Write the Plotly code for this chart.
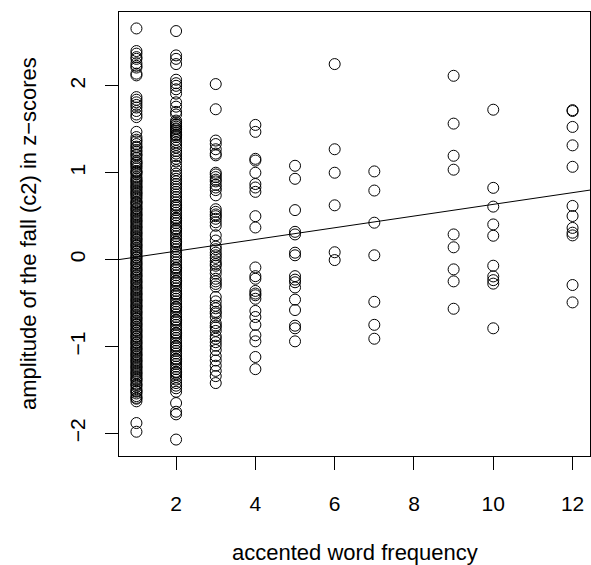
import plotly.graph_objects as go

# accented word frequency (x) -> amplitude of the fall in z-scores (y)
freq1 = [2.66, 2.40, 2.37, 2.33, 2.31, 2.26, 2.23, 2.21, 2.14, 2.12,
         1.87, 1.84, 1.81, 1.78, 1.75, 1.71, 1.67, 1.64, 1.47,
         1.41, 1.38, 1.36, 1.33, 1.30, 1.29, 1.26, 1.24, 1.21, 1.20, 1.17, 1.14, 1.12, 1.09,
         1.07, 1.05, 1.02, 1.00, 0.98, 0.95, 0.93, 0.91, 0.88, 0.86, 0.84, 0.81, 0.79, 0.77,
         0.74, 0.72, 0.70, 0.67, 0.65, 0.63, 0.61, 0.58, 0.56, 0.54, 0.51, 0.49, 0.47, 0.44,
         0.42, 0.40, 0.37, 0.35, 0.33, 0.30, 0.28, 0.26, 0.23, 0.21, 0.19, 0.16, 0.14, 0.12,
         0.09, 0.07, 0.05, 0.02, 0.00, -0.02, -0.05, -0.07, -0.09, -0.12, -0.14, -0.16, -0.19,
         -0.21, -0.23, -0.26, -0.28, -0.30, -0.33, -0.35, -0.37, -0.40, -0.42, -0.44, -0.47,
         -0.49, -0.51, -0.54, -0.56, -0.58, -0.61, -0.63, -0.65, -0.68, -0.70, -0.72, -0.75,
         -0.77, -0.79, -0.82, -0.84, -0.86, -0.89, -0.91, -0.93, -0.96, -0.98, -1.00, -1.03,
         -1.05, -1.07, -1.10, -1.12, -1.14, -1.17, -1.19, -1.21, -1.24, -1.26, -1.28, -1.31,
         -1.33, -1.35, -1.38, -1.40, -1.43, -1.46, -1.49, -1.51, -1.54, -1.57, -1.60, -1.63,
         -1.88, -1.98,
         1.11, 1.01, 0.90, 0.83, 0.76, 0.66, 0.59, 0.52, 0.45, 0.38, 0.31, 0.24, 0.17, 0.10,
         0.03, -0.04, -0.11, -0.18, -0.25, -0.32, -0.39, -0.46, -0.53, -0.60, -0.67, -0.74,
         -0.81, -0.88, -0.95, -1.02, -1.09, -1.16, -1.23, -1.30, -1.37, -1.44, -1.52, -1.59]
freq2 = [2.63, 2.35, 2.31, 2.25, 2.07, 2.03, 2.00, 1.96, 1.91, 1.81, 1.76, 1.70, 1.67,
         1.60, 1.58, 1.55, 1.53, 1.51, 1.48, 1.46, 1.43, 1.41, 1.38, 1.35, 1.32, 1.29, 1.25,
         1.22, 1.19, 1.16, 1.13, 1.08, 1.03, 0.99, 0.96, 0.93, 0.90, 0.87, 0.84, 0.81, 0.78,
         0.75, 0.72, 0.69, 0.66, 0.63, 0.60, 0.57, 0.54, 0.51, 0.48, 0.45, 0.42, 0.39, 0.36,
         0.33, 0.30, 0.27, 0.24, 0.21, 0.18, 0.15, 0.12, 0.09, 0.06, 0.03, 0.00, -0.03, -0.06,
         -0.09, -0.12, -0.15, -0.18, -0.21, -0.24, -0.27, -0.30, -0.33, -0.36, -0.39, -0.42,
         -0.45, -0.48, -0.51, -0.54, -0.57, -0.60, -0.63, -0.66, -0.69, -0.72, -0.75, -0.78,
         -0.81, -0.84, -0.87, -0.90, -0.93, -0.96, -0.99, -1.02, -1.05, -1.08, -1.11, -1.14,
         -1.17, -1.20, -1.23, -1.26, -1.29, -1.32, -1.35, -1.38, -1.42, -1.45, -1.48, -1.52,
         -1.65, -1.75, -1.78, -2.07,
         1.56, 1.50, 1.44, 0.62, 0.47, 0.35, 0.20, -0.10, -0.25, -0.40, -0.55, -0.70, -0.85,
         -1.00, -1.15, -1.30]
freq3 = [2.02, 1.73, 1.37, 1.33, 1.27, 1.22, 1.20,
         1.00, 0.98, 0.95, 0.92, 0.90, 0.86, 0.83, 0.80, 0.74,
         0.58, 0.55, 0.52, 0.50, 0.47, 0.43, 0.39, 0.28,
         0.22, 0.15, 0.12, 0.08, 0.05, 0.02, -0.02, -0.05, -0.07, -0.12, -0.16, -0.22, -0.25,
         -0.28, -0.31,
         -0.43, -0.48, -0.53, -0.56, -0.60, -0.62, -0.66, -0.73, -0.76, -0.78, -0.82, -0.88,
         -0.91, -0.95, -0.99, -1.04,
         -1.11, -1.16, -1.22, -1.28, -1.34, -1.42]
freq4 = [1.55, 1.47, 1.16, 1.14, 1.00, 0.87, 0.83, 0.78, 0.50, 0.37,
         -0.09, -0.19, -0.22, -0.36, -0.39, -0.41, -0.45, -0.59, -0.66, -0.75,
         -0.87, -0.94, -1.12, -1.26]
freq5 = [1.08, 0.93, 0.57, 0.32, 0.29, 0.08, 0.05, -0.19, -0.23, -0.26, -0.32,
         -0.46, -0.58, -0.76, -0.79, -0.94]
freq6 = [2.25, 1.27, 1.00, 0.625, 0.085, -0.005]
freq7 = [1.015, 0.795, 0.425, 0.05, -0.485, -0.75, -0.91]
freq9 = [2.115, 1.565, 1.195, 1.035, 0.29, 0.142, -0.112, -0.25, -0.565]
freq10 = [1.725, 0.826, 0.61, 0.405, 0.275, -0.07, -0.193, -0.236, -0.276, -0.79]
freq12 = [1.72, 1.71, 1.527, 1.315, 1.068, 0.618, 0.502, 0.365, 0.31, 0.279, -0.292, -0.492]

groups = {1: freq1, 2: freq2, 3: freq3, 4: freq4, 5: freq5, 6: freq6,
          7: freq7, 9: freq9, 10: freq10, 12: freq12}

fit_intercept = -0.037
fit_slope = 0.0673

x_ticks = [2, 4, 6, 8, 10, 12]
y_ticks = [-2, -1, 0, 1, 2]

xs, ys = [], []
for k, vals in groups.items():
    xs += [k] * len(vals)
    ys += vals

# R-style 4% axis extension
xmin, xmax = min(xs), max(xs)
ymin, ymax = min(ys), max(ys)
xr = [xmin - 0.04 * (xmax - xmin), xmax + 0.04 * (xmax - xmin)]
yr = [ymin - 0.04 * (ymax - ymin), ymax + 0.04 * (ymax - ymin)]

FONT = "Liberation Sans, Arial, Helvetica, sans-serif"

fig = go.Figure()
fig.add_trace(go.Scatter(
    x=xs, y=ys, mode="markers",
    marker=dict(symbol="circle-open", size=11, color="black", line=dict(width=1, color="black")),
    showlegend=False, cliponaxis=False, hoverinfo="skip"))
fig.add_trace(go.Scatter(
    x=xr, y=[fit_intercept + fit_slope * v for v in xr], mode="lines",
    line=dict(color="black", width=1), showlegend=False, hoverinfo="skip"))

fig.update_layout(
    width=591, height=565,
    margin=dict(l=119, r=1, t=12, b=109),
    paper_bgcolor="white", plot_bgcolor="white",
    font=dict(family=FONT, size=21, color="black"),
    xaxis=dict(range=xr, tickvals=x_ticks, ticktext=[str(t) for t in x_ticks],
               showgrid=False, zeroline=False, showline=True, mirror=True,
               linecolor="black", linewidth=1, ticks="outside", ticklen=13,
               tickcolor="black", tickwidth=1, ticklabelstandoff=16,
               tickfont=dict(size=21)),
    yaxis=dict(range=yr, tickvals=y_ticks, ticktext=[("\u2212" if t < 0 else "") + str(abs(t)) for t in y_ticks],
               showgrid=False, zeroline=False, showline=True, mirror=True,
               linecolor="black", linewidth=1, ticks="outside", ticklen=13,
               tickcolor="black", tickwidth=1, tickangle=-90, ticklabelstandoff=12,
               tickfont=dict(size=21)),
    annotations=[
        dict(text="accented word frequency", xref="paper", yref="paper",
             x=0.5, y=0, xanchor="center", yanchor="middle", yshift=-96,
             showarrow=False, font=dict(size=22)),
        dict(text="amplitude of the fall (c2) in z\u2212scores", xref="paper", yref="paper",
             x=0, y=0.5, xanchor="center", yanchor="middle", xshift=-91, textangle=-90,
             showarrow=False, font=dict(size=22)),
    ],
)

fig.write_html("out.html", config={"displayModeBar": False},
               post_script="document.body.style.margin='0';document.body.style.overflow='hidden';")
